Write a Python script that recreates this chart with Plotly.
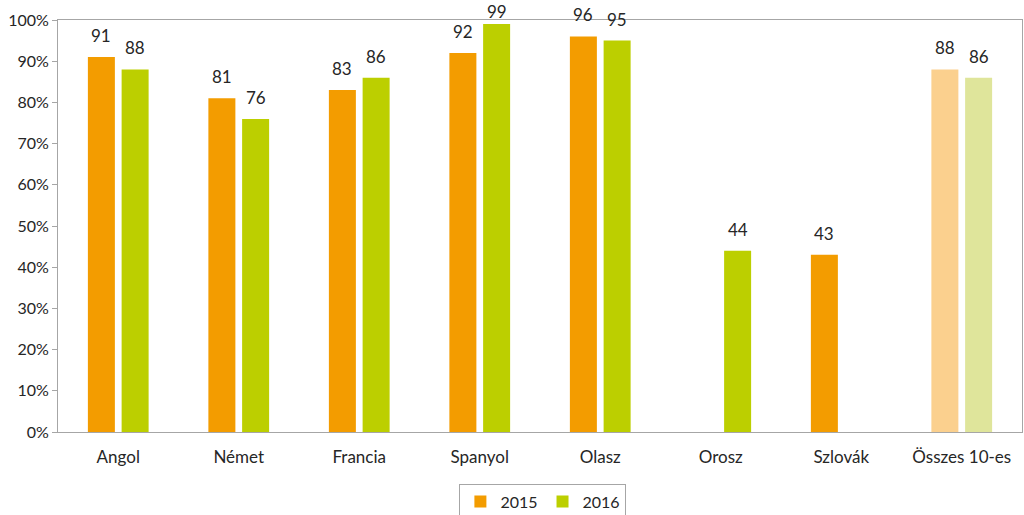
import plotly.graph_objects as go

categories = ["Angol", "Német", "Francia", "Spanyol", "Olasz", "Orosz", "Szlovák", "Összes 10-es"]
values_2015 = [91, 81, 83, 92, 96, None, 43, 88]
values_2016 = [88, 76, 86, 99, 95, 44, None, 86]
y_ticks = [0, 10, 20, 30, 40, 50, 60, 70, 80, 90, 100]
y_tick_labels = [f"{t}%" for t in y_ticks]

ORANGE = "#F39C00"
GREEN = "#BCCF00"
ORANGE_LIGHT = "#FBD08E"
GREEN_LIGHT = "#DFE59B"

colors_2015 = [ORANGE] * 7 + [ORANGE_LIGHT]
colors_2016 = [GREEN] * 7 + [GREEN_LIGHT]

FONT = "Lato"
TEXT = "#262626"
AXIS = "#A6A6A6"

W, H = 1024, 515
ML, MR, MT, MB = 58, 2, 20, 83
plot_w = W - ML - MR
plot_h = H - MT - MB

fig = go.Figure()
fig.add_trace(go.Bar(name="2015", x=categories, y=values_2015,
                     marker=dict(color=colors_2015, line=dict(width=0))))
fig.add_trace(go.Bar(name="2016", x=categories, y=values_2016,
                     marker=dict(color=colors_2016, line=dict(width=0))))

bargap = 0.44
slot = (1 - bargap) * (plot_w / len(categories)) / 2

annotations = []
for series, shift in ((values_2015, -slot / 2), (values_2016, slot / 2)):
    for c, v in zip(categories, series):
        if v is None:
            continue
        bar_top_px = (100 - v) / 100 * plot_h + MT
        ys = min(9, bar_top_px - 24)
        annotations.append(dict(x=c, y=v, xref="x", yref="y", text=str(v),
                                showarrow=False, xshift=shift, yshift=ys,
                                yanchor="bottom",
                                font=dict(family=FONT, size=17, color=TEXT)))

fig.update_layout(
    width=W, height=H,
    margin=dict(l=ML, r=MR, t=MT, b=MB, autoexpand=False),
    paper_bgcolor="white", plot_bgcolor="white",
    barmode="group", bargap=bargap, bargroupgap=0.2,
    font=dict(family=FONT, size=16, color=TEXT),
    showlegend=True,
    legend=dict(orientation="h", x=0.503, xanchor="center", y=-0.125, yanchor="top",
                bordercolor=AXIS, borderwidth=1, font=dict(size=16, color=TEXT),
                itemwidth=30, tracegroupgap=0),
    annotations=annotations,
    xaxis=dict(showline=True, linecolor=AXIS, linewidth=1, mirror=True, automargin=False,
               ticks="", ticklabelstandoff=10,
               tickfont=dict(size=17, color=TEXT), showgrid=False),
    yaxis=dict(range=[0, 100], tickvals=y_ticks, ticktext=y_tick_labels, automargin=False,
               showline=True, linecolor=AXIS, linewidth=1, mirror=True,
               ticks="outside", ticklen=5, tickcolor=AXIS,
               tickfont=dict(size=16, color=TEXT), showgrid=False, zeroline=False),
)

fig.write_html("out.html", config={"displayModeBar": False},
               post_script="document.body.style.margin='0px';")
